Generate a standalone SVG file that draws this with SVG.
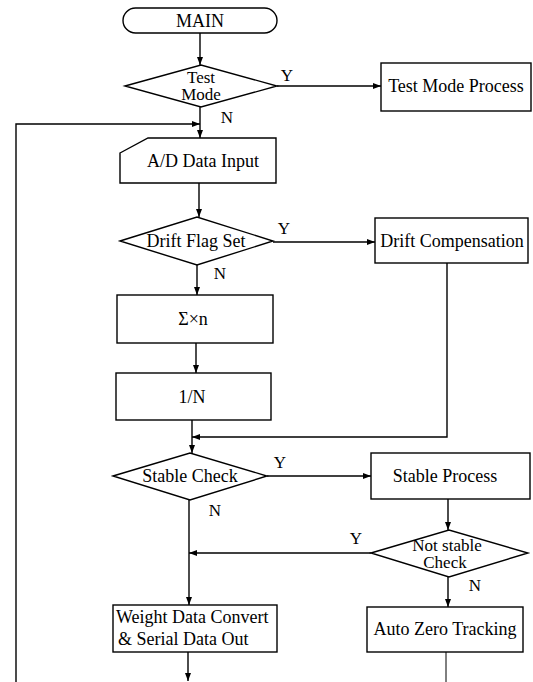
<svg xmlns="http://www.w3.org/2000/svg" width="533" height="682" viewBox="0 0 533 682">
  <defs>
    <marker id="arr" viewBox="0 0 8 6" refX="8" refY="3" markerWidth="8" markerHeight="6" markerUnits="userSpaceOnUse" orient="auto">
      <path d="M0,0 L8,3 L0,6 z" fill="#000"/>
    </marker>
    <style>
      .shape { fill: #fff; stroke: #000; stroke-width: 1.4; }
      .line { fill: none; stroke: #000; stroke-width: 1.4; }
      .thin { fill: none; stroke: #000; stroke-width: 1; }
      text { font-family: "Liberation Serif", "Times New Roman", serif; font-size: 18px; fill: #000; }
      .c { text-anchor: middle; }
      .two { font-size: 17px; }
      .lbl { font-size: 17px; text-anchor: middle; }
    </style>
  </defs>
  <rect width="533" height="682" fill="#fff"/>

  <!-- connectors -->
  <g id="connectors">
    <line class="line" x1="200" y1="33" x2="200" y2="65" marker-end="url(#arr)"/>
    <line class="line" x1="277" y1="86" x2="381" y2="86" marker-end="url(#arr)"/>
    <line class="line" x1="200" y1="107" x2="200" y2="138" marker-end="url(#arr)"/>
    <polyline class="line" points="16,682 16,124 200,124" marker-end="url(#arr)"/>
    <line class="line" x1="199" y1="183" x2="199" y2="217" marker-end="url(#arr)"/>
    <line class="line" x1="273" y1="242" x2="375" y2="242" marker-end="url(#arr)"/>
    <line class="line" x1="197" y1="265" x2="197" y2="295" marker-end="url(#arr)"/>
    <line class="line" x1="196" y1="343" x2="196" y2="373" marker-end="url(#arr)"/>
    <line class="line" x1="192" y1="420" x2="192" y2="453" marker-end="url(#arr)"/>
    <polyline class="line" points="447,263 447,437 192,437" marker-end="url(#arr)"/>
    <line class="line" x1="267" y1="476" x2="371" y2="476" marker-end="url(#arr)"/>
    <line class="line" x1="189" y1="500" x2="189" y2="605" marker-end="url(#arr)"/>
    <line class="line" x1="448" y1="499" x2="448" y2="530" marker-end="url(#arr)"/>
    <line class="line" x1="371" y1="553" x2="189" y2="553" marker-end="url(#arr)"/>
    <line class="line" x1="448" y1="577" x2="448" y2="607" marker-end="url(#arr)"/>
    <line class="line" x1="188" y1="652" x2="188" y2="681" marker-end="url(#arr)"/>
    <line class="thin" x1="446" y1="652" x2="446" y2="682"/>
  </g>

  <!-- branch labels -->
  <g id="labels">
    <text class="lbl" x="287" y="81">Y</text>
    <text class="lbl" x="227" y="123">N</text>
    <text class="lbl" x="284" y="234">Y</text>
    <text class="lbl" x="220" y="279">N</text>
    <text class="lbl" x="280" y="468">Y</text>
    <text class="lbl" x="215" y="516">N</text>
    <text class="lbl" x="356" y="544">Y</text>
    <text class="lbl" x="475" y="591">N</text>
  </g>

  <g id="main">
    <rect class="shape" x="123" y="8" width="154" height="25" rx="12.5" ry="12.5"/>
    <text class="c" x="200" y="27">MAIN</text>
  </g>

  <g id="test-mode">
    <polygon class="shape" points="125,86 201,65 277,86 201,107"/>
    <text class="c two" x="201" y="83">Test</text>
    <text class="c two" x="201" y="100">Mode</text>
  </g>

  <g id="test-mode-process">
    <rect class="shape" x="381" y="63" width="150" height="48"/>
    <text class="c" x="456" y="92">Test Mode Process</text>
  </g>

  <g id="ad-data-input">
    <polygon class="shape" points="120,153 148,138 276,138 276,183 120,183"/>
    <text class="c" x="203" y="167">A/D Data Input</text>
  </g>

  <g id="drift-flag-set">
    <polygon class="shape" points="120,241 197,217 273,241 197,265"/>
    <text class="c" x="196" y="247">Drift Flag Set</text>
  </g>

  <g id="drift-compensation">
    <rect class="shape" x="375" y="218" width="153" height="45"/>
    <text class="c" x="452" y="247">Drift Compensation</text>
  </g>

  <g id="sum-n">
    <rect class="shape" x="117" y="295" width="156" height="48"/>
    <text class="c" x="193" y="325">Σ×n</text>
  </g>

  <g id="divide-n">
    <rect class="shape" x="116" y="373" width="155" height="47"/>
    <text class="c" x="192" y="403">1/N</text>
  </g>

  <g id="stable-check">
    <polygon class="shape" points="113,476 190,453 267,476 190,500"/>
    <text class="c" x="190" y="482">Stable Check</text>
  </g>

  <g id="stable-process">
    <rect class="shape" x="371" y="453" width="159" height="46"/>
    <text class="c" x="445" y="482">Stable Process</text>
  </g>

  <g id="not-stable-check">
    <polygon class="shape" points="371,553 449,530 528,553 449,577"/>
    <text class="c two" x="447" y="551">Not stable</text>
    <text class="c two" x="445" y="568">Check</text>
  </g>

  <g id="weight-data-convert">
    <rect class="shape" x="113" y="605" width="164" height="47"/>
    <text x="116" y="623">Weight Data Convert</text>
    <text x="118" y="645">&amp; Serial Data Out</text>
  </g>

  <g id="auto-zero-tracking">
    <rect class="shape" x="367" y="607" width="156" height="45"/>
    <text class="c" x="445" y="635">Auto Zero Tracking</text>
  </g>
</svg>
